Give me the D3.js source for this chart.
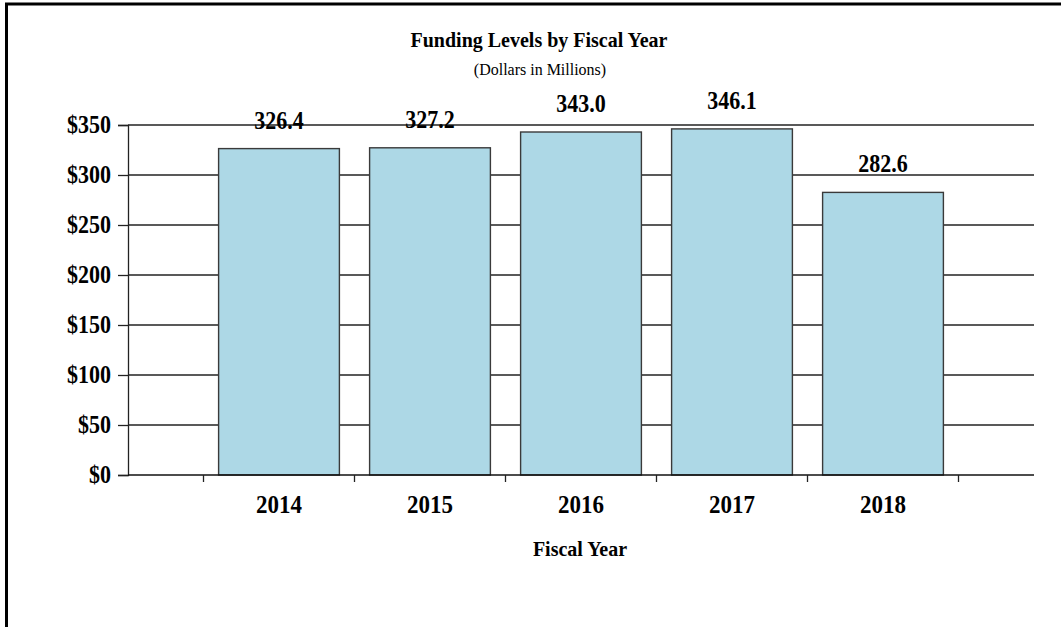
<!DOCTYPE html>
<html>
<head>
<meta charset="utf-8">
<script src="https://cdn.jsdelivr.net/npm/d3@7"></script>
<style>
  body { margin: 0; background: #fff; }
  text { font-family: "Liberation Serif", "Times New Roman", serif; fill: #000; }
</style>
</head>
<body>
<svg class="chart"></svg>
<script>
const years = ['2014', '2015', '2016', '2017', '2018'];
const funding = [326.4, 327.2, 343.0, 346.1, 282.6];
const yTicks = [0, 50, 100, 150, 200, 250, 300, 350];

const svg = d3.select('.chart')
	.attr('width', 1061)
	.attr('height', 627);

let plotLeft = 128,
	plotRight = 1034,
	plotTop = 125,
	plotBottom = 475,
	stretch = 1.1; // the source text is a bit taller than wide

const data = years.map((y, i) => ({ year: y, value: funding[i] }));

const xScale = d3.scaleBand()
	.domain(years)
	.range([plotLeft, plotRight])
	.paddingInner(0.2)
	.paddingOuter(0.6);

const yScale = d3.scaleLinear()
	.domain([0, 350])
	.range([plotBottom, plotTop]);

const place = (x, y) => `translate(${x}, ${y}) scale(1, ${stretch})`;

// outer frame
svg.append('rect')
	.attr('x', 6.5)
	.attr('y', 4)
	.attr('width', 1100)
	.attr('height', 700)
	.attr('fill', 'none')
	.attr('stroke', '#000')
	.attr('stroke-width', 3);

// titles
svg.append('text')
	.attr('transform', place(539, 47))
	.attr('text-anchor', 'middle')
	.attr('font-size', 20).attr('font-weight', 'bold')
	.text('Funding Levels by Fiscal Year');

svg.append('text')
	.attr('transform', place(540, 75))
	.attr('text-anchor', 'middle')
	.attr('font-size', 16)
	.text('(Dollars in Millions)');

// y axis with gridlines
const yAxis = d3.axisLeft(yScale)
	.tickValues(yTicks)
	.tickSize(10)
	.tickPadding(7)
	.tickFormat(d => '$' + d);

const yAxisG = svg.append('g')
	.attr('transform', `translate(${plotLeft}, 0)`)
	.call(yAxis);
yAxisG.selectAll('.domain').attr('stroke', '#222').attr('stroke-width', 1.3);
yAxisG.selectAll('line').attr('stroke', '#222').attr('stroke-width', 1.3);
yAxisG.selectAll('text')
	.attr('transform', `scale(1, ${stretch})`)
	.attr('font-size', 22)
	.attr('font-weight', 'bold')
	.attr('font-family', '"Liberation Serif", "Times New Roman", serif')
	.attr('fill', '#000');

svg.append('g').selectAll('line')
	.data(yTicks.filter(d => d > 0))
	.enter().append('line')
	.attr('x1', plotLeft).attr('x2', plotRight)
	.attr('y1', d => yScale(d)).attr('y2', d => yScale(d))
	.attr('stroke', '#222')
	.attr('stroke-width', 1.3);

// bars
svg.append('g').selectAll('rect')
	.data(data)
	.enter().append('rect')
	.attr('x', d => xScale(d.year))
	.attr('y', d => yScale(d.value))
	.attr('width', xScale.bandwidth())
	.attr('height', d => yScale(0) - yScale(d.value))
	.attr('fill', '#add8e6')
	.attr('stroke', '#3a3a3a')
	.attr('stroke-width', 1.4);

// x axis line and ticks between categories
const step = xScale.step();
const gap = step * xScale.paddingInner() / 2;
const boundaries = years.map(y => xScale(y) - gap)
	.concat([xScale(years[years.length - 1]) + xScale.bandwidth() + gap]);

svg.append('line')
	.attr('x1', plotLeft).attr('x2', plotRight)
	.attr('y1', plotBottom).attr('y2', plotBottom)
	.attr('stroke', '#111')
	.attr('stroke-width', 1.6);

svg.append('g').selectAll('line')
	.data(boundaries)
	.enter().append('line')
	.attr('x1', d => d).attr('x2', d => d)
	.attr('y1', plotBottom).attr('y2', plotBottom + 7)
	.attr('stroke', '#222')
	.attr('stroke-width', 1.3);

svg.append('g').selectAll('text')
	.data(years)
	.enter().append('text')
	.attr('transform', d => place(xScale(d) + xScale.bandwidth() / 2, 513))
	.attr('text-anchor', 'middle')
	.attr('font-size', 23)
	.attr('font-weight', 'bold')
	.text(d => d);

svg.append('text')
	.attr('transform', place(580, 556))
	.attr('text-anchor', 'middle')
	.attr('font-size', 20).attr('font-weight', 'bold')
	.text('Fiscal Year');

// value labels
svg.append('g').selectAll('text')
	.data(data)
	.enter().append('text')
	.attr('transform', d => place(xScale(d.year) + xScale.bandwidth() / 2, yScale(d.value) - 20))
	.attr('text-anchor', 'middle')
	.attr('font-size', 22)
	.attr('font-weight', 'bold')
	.text(d => d.value.toFixed(1));
</script>
</body>
</html>
